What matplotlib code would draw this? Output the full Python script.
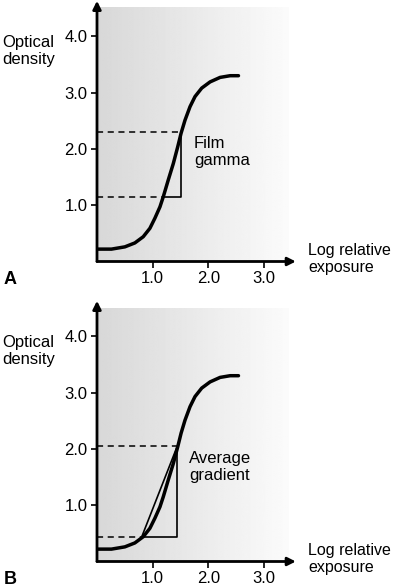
import numpy as np
import matplotlib
matplotlib.use("Agg")
import matplotlib.pyplot as plt

plt.rcParams['font.family'] = ['Liberation Sans', 'DejaVu Sans']

# characteristic curve (log exposure, optical density)
curve_x = [0.02, 0.26, 0.50, 0.68, 0.83, 0.95, 1.04, 1.13, 1.19, 1.28, 1.37,
           1.45, 1.51, 1.58, 1.67, 1.76, 1.88, 2.03, 2.21, 2.39, 2.54]
curve_y = [0.22, 0.22, 0.26, 0.33, 0.44, 0.59, 0.77, 0.97, 1.15, 1.45, 1.74,
           2.04, 2.28, 2.51, 2.75, 2.93, 3.08, 3.19, 3.27, 3.30, 3.30]

ticks = [1.0, 2.0, 3.0]
yticks = [1.0, 2.0, 3.0, 4.0]
tick_labels = ["1.0", "2.0", "3.0"]
ytick_labels = ["1.0", "2.0", "3.0", "4.0"]

# panel A: film gamma triangle
gamma_lo = (1.19, 1.15)
gamma_hi = (1.51, 2.30)
# panel B: average gradient
grad_lo = (0.80, 0.43)
grad_hi = (1.43, 2.06)

W, H = 395, 588
fig = plt.figure(figsize=(W / 100, H / 100), dpi=100)

def px(x, y):
    return x / W, 1 - y / H

def make_panel(y_zero):
    x0, sx, sy = 97, 55.7, 56.3
    xmax, ymax = 3.6, 4.6
    l, b = px(x0, y_zero)
    ax = fig.add_axes([l, b, xmax * sx / W, ymax * sy / H])
    ax.set_xlim(0, xmax)
    ax.set_ylim(0, ymax)
    grad = np.linspace(0.845, 0.985, 200).reshape(1, -1)
    ax.imshow(grad, cmap="gray", vmin=0, vmax=1, extent=(0, 3.43, 0, 4.5),
              aspect="auto", zorder=0, interpolation="bilinear")
    for s in ax.spines.values():
        s.set_visible(False)
    ax.annotate("", xy=(3.57, 0), xytext=(0, 0), annotation_clip=False,
                arrowprops=dict(arrowstyle="-|>", lw=2, color="k",
                                mutation_scale=12, shrinkA=0, shrinkB=0))
    ax.annotate("", xy=(0, 4.63), xytext=(0, 0), annotation_clip=False,
                arrowprops=dict(arrowstyle="-|>", lw=2, color="k",
                                mutation_scale=12, shrinkA=0, shrinkB=0))
    ax.set_xticks(ticks)
    ax.set_xticklabels(tick_labels)
    ax.set_yticks(yticks)
    ax.set_yticklabels(ytick_labels)
    ax.tick_params(direction="out", length=4, width=1.2, labelsize=12, pad=3)
    ax.patch.set_alpha(0)
    ax.plot(curve_x, curve_y, color="k", lw=2.5, solid_capstyle="round",
            solid_joinstyle="round", zorder=3)
    return ax

# panel A
ax = make_panel(261.5)
ax.plot([0, gamma_lo[0]], [gamma_lo[1]] * 2, "k--", lw=1.1, dashes=(4, 3))
ax.plot([0, gamma_hi[0]], [gamma_hi[1]] * 2, "k--", lw=1.1, dashes=(4, 3))
ax.plot([gamma_lo[0], gamma_hi[0], gamma_hi[0]],
        [gamma_lo[1], gamma_lo[1], gamma_hi[1]], "k-", lw=1.2)

# panel B
ax = make_panel(561.5)
ax.plot([0, grad_lo[0]], [grad_lo[1]] * 2, "k--", lw=1.1, dashes=(4, 3))
ax.plot([0, grad_hi[0]], [grad_hi[1]] * 2, "k--", lw=1.1, dashes=(4, 3))
ax.plot([grad_lo[0], grad_hi[0], grad_hi[0]],
        [grad_lo[1], grad_lo[1], grad_hi[1] - 0.04], "k-", lw=1.2)
ax.plot([grad_lo[0], grad_hi[0]], [grad_lo[1], grad_hi[1] - 0.04], "k-", lw=1.2)

# labels
for off, letter, note, note_xy in [(0, "A", "Film\ngamma", (194, 136)),
                                   (300, "B", "Average\ngradient", (189, 151))]:
    fig.text(*px(2, 35 + off), "Optical\ndensity", fontsize=12, va="top",
             ha="left", linespacing=1.15)
    fig.text(*px(308, 243 + off), "Log relative\nexposure", fontsize=11.5,
             va="top", ha="left", linespacing=1.2)
    fig.text(*px(4, 284 + off), letter, fontsize=13, fontweight="bold",
             va="baseline", ha="left")
    fig.text(*px(note_xy[0], note_xy[1] + off), note, fontsize=12, va="top",
             ha="left", linespacing=1.15)

fig.savefig("out.png", dpi=100)
